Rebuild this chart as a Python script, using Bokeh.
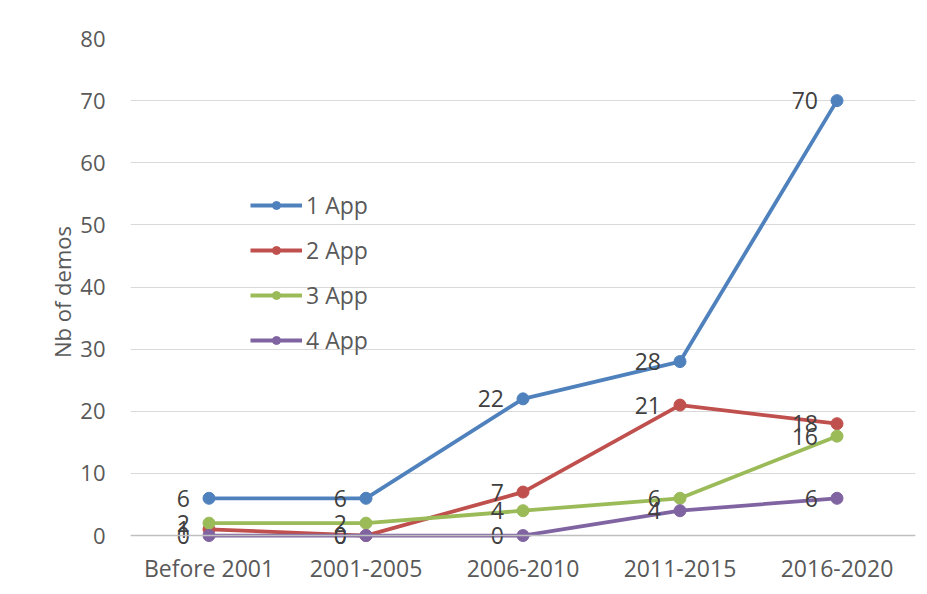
from bokeh.plotting import figure
from bokeh.models import FactorRange, Range1d, FixedTicker, Span, Legend, LegendItem, ColumnDataSource
from bokeh.embed import file_html
from bokeh.resources import INLINE
from bokeh.core.properties import value

categories = ["Before 2001", "2001-2005", "2006-2010", "2011-2015", "2016-2020"]
series_names = ["1 App", "2 App", "3 App", "4 App"]
app1 = [6, 6, 22, 28, 70]
app2 = [1, 0, 7, 21, 18]
app3 = [2, 2, 4, 6, 16]
app4 = [0, 0, 0, 4, 6]
colors = ["#4F81BD", "#C0504D", "#9BBB59", "#8064A2"]
y_ticks = [0, 10, 20, 30, 40, 50, 60, 70, 80]

FONT = "Open Sans"
TXT = "#595959"

p = figure(x_range=FactorRange(*categories, range_padding=0),
           y_range=Range1d(-1.6, 80),
           width=919, height=586, output_backend="svg", toolbar_location=None,
           min_border_left=130, min_border_right=4, min_border_top=38, min_border_bottom=39)
p.outline_line_color = None
p.background_fill_color = "white"
p.border_fill_color = "white"

p.xgrid.grid_line_color = None
p.ygrid.grid_line_color = "#d9d9d9"
p.ygrid.grid_line_width = 1

p.yaxis.ticker = FixedTicker(ticks=y_ticks)
for ax in (p.xaxis, p.yaxis):
    ax.axis_line_color = None
    ax.major_tick_line_color = None
    ax.minor_tick_line_color = None
    ax.major_label_text_font = FONT
    ax.major_label_text_color = TXT
p.yaxis.major_label_text_font_size = "22px"
p.xaxis.major_label_text_font_size = "23px"
p.yaxis.major_label_standoff = 19
p.xaxis.major_label_standoff = 0
p.yaxis.axis_label = "Nb of demos"
p.yaxis.axis_label_text_font = FONT
p.yaxis.axis_label_text_font_style = "normal"
p.yaxis.axis_label_text_font_size = "22px"
p.yaxis.axis_label_text_color = TXT
p.yaxis.axis_label_standoff = 0

p.add_layout(Span(location=0, dimension="width", line_color="#bfbfbf", line_width=1.5))

items = []
for name, vals, col in zip(series_names, [app1, app2, app3, app4], colors):
    src = ColumnDataSource(dict(x=categories, y=vals, lab=[str(v) for v in vals]))
    r1 = p.line("x", "y", source=src, line_color=col, line_width=3.8)
    r2 = p.scatter("x", "y", source=src, size=12, fill_color=col, line_color=col)
    p.text("x", "y", text="lab", source=src, x_offset=-19, text_align="right",
           text_baseline="middle", text_font=value(FONT), text_font_size="23px",
           text_color="#404040")
    items.append(LegendItem(label=name, renderers=[r1, r2]))

leg = Legend(items=items, location=(120, 189))
leg.glyph_width = 52
leg.glyph_height = 20
leg.label_standoff = 4
leg.spacing = 13
leg.padding = 0
leg.margin = 0
leg.border_line_color = None
leg.background_fill_alpha = 0
leg.label_text_font = FONT
leg.label_text_font_size = "23px"
leg.label_text_color = TXT
p.add_layout(leg)

open("out.html", "w").write(file_html(p, INLINE))
